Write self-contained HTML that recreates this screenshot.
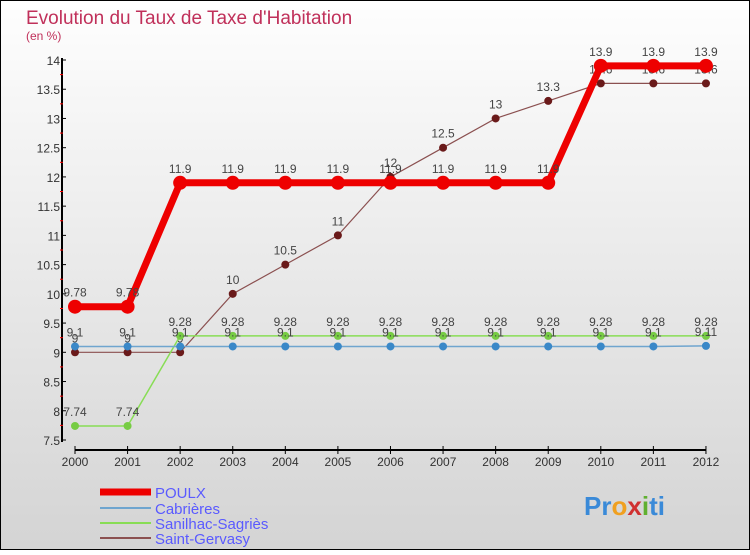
<!DOCTYPE html>
<html><head><meta charset="utf-8"><style>
body{margin:0;width:750px;height:550px;overflow:hidden;font-family:"Liberation Sans",sans-serif}
</style></head><body>
<svg width="750" height="550" xmlns="http://www.w3.org/2000/svg">
<defs><linearGradient id="bg" x1="0" y1="0" x2="0" y2="1"><stop offset="0" stop-color="#fefefe"/><stop offset="1" stop-color="#d4d4d4"/></linearGradient></defs>
<rect x="0.5" y="0.5" width="749" height="549" fill="url(#bg)" stroke="#000"/>
<text x="26" y="24" font-size="19" fill="#c0305a">Evolution du Taux de Taxe d'Habitation</text>
<text x="26" y="40" font-size="12" fill="#c0305a">(en %)</text>
<g id="axes"></g><g id="series"></g>
<g>
<line x1="100" y1="492" x2="151" y2="492" stroke="#e00" stroke-width="7"/>
<text x="155" y="498" font-size="15" fill="#5a5aff">POULX</text>
<line x1="100" y1="508" x2="151" y2="508" stroke="#6fa5cf" stroke-width="2"/>
<text x="155" y="514" font-size="15" fill="#5a5aff">Cabrières</text>
<line x1="100" y1="523" x2="151" y2="523" stroke="#88dd55" stroke-width="2"/>
<text x="155" y="529" font-size="15" fill="#5a5aff">Sanilhac-Sagriès</text>
<line x1="100" y1="538" x2="151" y2="538" stroke="#8b5050" stroke-width="2"/>
<text x="155" y="544" font-size="15" fill="#5a5aff">Saint-Gervasy</text>
</g>
<text x="584" y="515" font-size="26" font-weight="bold"><tspan fill="#3a8ad8">Pr</tspan><tspan fill="#f0a020">o</tspan><tspan fill="#d03030">x</tspan><tspan fill="#60b030">i</tspan><tspan fill="#3a8ad8">ti</tspan></text>
</svg>
<script>
const years=[2000,2001,2002,2003,2004,2005,2006,2007,2008,2009,2010,2011,2012];
const yTicks=[7.5,8,8.5,9,9.5,10,10.5,11,11.5,12,12.5,13,13.5,14];
const poulx=[9.78,9.78,11.9,11.9,11.9,11.9,11.9,11.9,11.9,11.9,13.9,13.9,13.9];
const cabrieres=[9.1,9.1,9.1,9.1,9.1,9.1,9.1,9.1,9.1,9.1,9.1,9.1,9.11];
const sanilhac=[7.74,7.74,9.28,9.28,9.28,9.28,9.28,9.28,9.28,9.28,9.28,9.28,9.28];
const gervasy=[9,9,9,10,10.5,11,12,12.5,13,13.3,13.6,13.6,13.6];
const NS="http://www.w3.org/2000/svg";
const X=i=>75+i*52.58, Y=v=>60+(14-v)*58.46;
function mk(p,t,a){const e=document.createElementNS(NS,t);for(const k in a)e.setAttribute(k,a[k]);p.appendChild(e);return e;}
const ax=document.getElementById('axes');
let l=mk(ax,'line',{x1:62,y1:58,x2:62,y2:442,stroke:'#000','stroke-width':2});


l=mk(ax,'line',{x1:75,y1:450,x2:706,y2:450,stroke:'#000','stroke-width':2});


yTicks.forEach(v=>{
 mk(ax,'line',{x1:62,y1:Y(v),x2:66,y2:Y(v),stroke:'#000'});
 if(v<14)mk(ax,'line',{x1:60,y1:Y(v+0.25),x2:63,y2:Y(v+0.25),stroke:'#f00'});
 const t=mk(ax,'text',{x:60,y:Y(v)+5,'font-size':12,fill:'#333','text-anchor':'end'});
 t.textContent=String(v);
 
 
});
years.forEach((y,i)=>{
 mk(ax,'line',{x1:X(i),y1:446,x2:X(i),y2:454,stroke:'#000'});
 const t=mk(ax,'text',{x:X(i),y:466,'font-size':12,fill:'#333','text-anchor':'middle'});
 t.textContent=String(y);
 
 
});
const sg=document.getElementById('series');
function draw(name,vals,color,w,r,dot){
 const g=mk(sg,'g',{});
 
 
 const pl=mk(g,'polyline',{points:vals.map((v,i)=>X(i)+','+Y(v)).join(' '),fill:'none',stroke:color,'stroke-width':w});
 
 
 vals.forEach((v,i)=>{
  const c=mk(g,'circle',{cx:X(i),cy:Y(v),r:r,fill:dot});
  
  
  const t=mk(g,'text',{x:X(i),y:Y(v)-10,'font-size':12,fill:'#444','text-anchor':'middle'});
  t.textContent=String(v);
  
  
 });
}
draw('saint-gervasy',gervasy,'#8b5050',1.2,4,'#6a1a1a');
draw('sanilhac',sanilhac,'#88dd55',1.5,4,'#77cc44');
draw('cabrieres',cabrieres,'#6fa5cf',1.5,4,'#3a88c8');
draw('poulx',poulx,'#ee0000',7,7,'#ee0000');
</script>
</body></html>
